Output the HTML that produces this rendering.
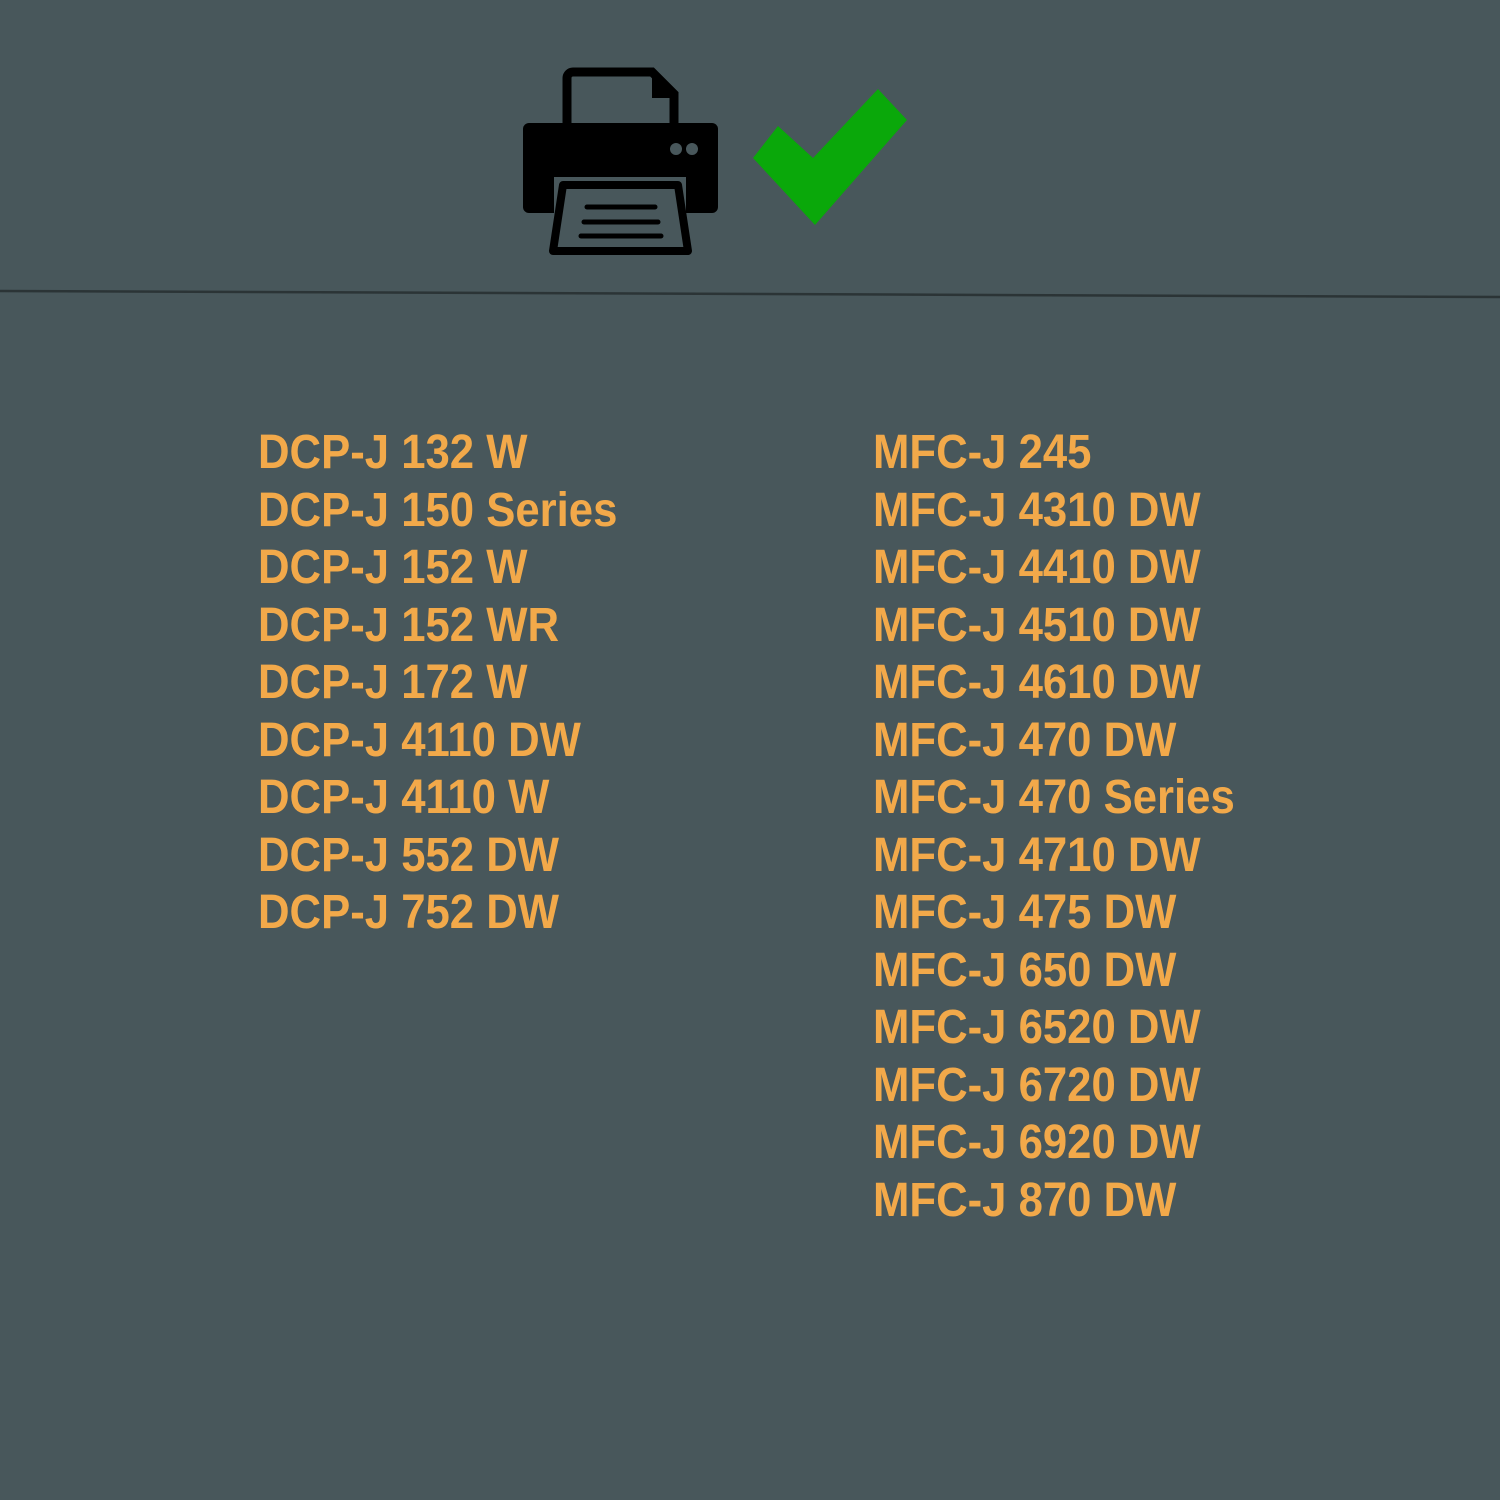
<!DOCTYPE html>
<html><head><style>
html,body{margin:0;padding:0;}
body{width:1500px;height:1500px;background:#48575b;position:relative;overflow:hidden;font-family:"Liberation Sans",sans-serif;}
.col{position:absolute;top:0;}
.l{position:absolute;left:0;white-space:nowrap;font-weight:bold;font-size:48px;color:#f2a94a;transform:scaleX(0.91);transform-origin:0 0;line-height:1;}
</style></head><body>
<svg width="1500" height="1500" style="position:absolute;left:0;top:0">
<line x1="0" y1="291" x2="1500" y2="297" stroke="#2b3436" stroke-width="2.5"/>
<path d="M567 125 V78 a6 6 0 0 1 6 -6 H652 L674 94 V125" fill="none" stroke="#000" stroke-width="9"/>
<path d="M652 74 V98 H674 Z" fill="#000"/>
<rect x="523" y="123" width="195" height="90" rx="6" fill="#000"/>
<rect x="554" y="177" width="132" height="40" fill="#48575b"/>
<path d="M563 185 H678 L688 251 H553 Z" fill="#48575b" stroke="#000" stroke-width="8" stroke-linejoin="round"/>
<line x1="587" y1="207" x2="655" y2="207" stroke="#000" stroke-width="5" stroke-linecap="round"/>
<line x1="584" y1="222" x2="658" y2="222" stroke="#000" stroke-width="5" stroke-linecap="round"/>
<line x1="581" y1="236" x2="661" y2="236" stroke="#000" stroke-width="5" stroke-linecap="round"/>
<circle cx="676" cy="149" r="6" fill="#48575b"/>
<circle cx="692" cy="149" r="6" fill="#48575b"/>
<path d="M753 158 L778 126 L813 158 L878 89 L907 120 L815 225 Z" fill="#0aa80a"/>
</svg>
<div class="col" style="left:258px">
<div class="l" style="top:429px">DCP-J 132 W</div>
<div class="l" style="top:487px">DCP-J 150 Series</div>
<div class="l" style="top:544px">DCP-J 152 W</div>
<div class="l" style="top:602px">DCP-J 152 WR</div>
<div class="l" style="top:659px">DCP-J 172 W</div>
<div class="l" style="top:717px">DCP-J 4110 DW</div>
<div class="l" style="top:774px">DCP-J 4110 W</div>
<div class="l" style="top:832px">DCP-J 552 DW</div>
<div class="l" style="top:889px">DCP-J 752 DW</div>
</div>
<div class="col" style="left:873px">
<div class="l" style="top:429px">MFC-J 245</div>
<div class="l" style="top:487px">MFC-J 4310 DW</div>
<div class="l" style="top:544px">MFC-J 4410 DW</div>
<div class="l" style="top:602px">MFC-J 4510 DW</div>
<div class="l" style="top:659px">MFC-J 4610 DW</div>
<div class="l" style="top:717px">MFC-J 470 DW</div>
<div class="l" style="top:774px">MFC-J 470 Series</div>
<div class="l" style="top:832px">MFC-J 4710 DW</div>
<div class="l" style="top:889px">MFC-J 475 DW</div>
<div class="l" style="top:947px">MFC-J 650 DW</div>
<div class="l" style="top:1004px">MFC-J 6520 DW</div>
<div class="l" style="top:1062px">MFC-J 6720 DW</div>
<div class="l" style="top:1119px">MFC-J 6920 DW</div>
<div class="l" style="top:1177px">MFC-J 870 DW</div>
</div>
</body></html>
